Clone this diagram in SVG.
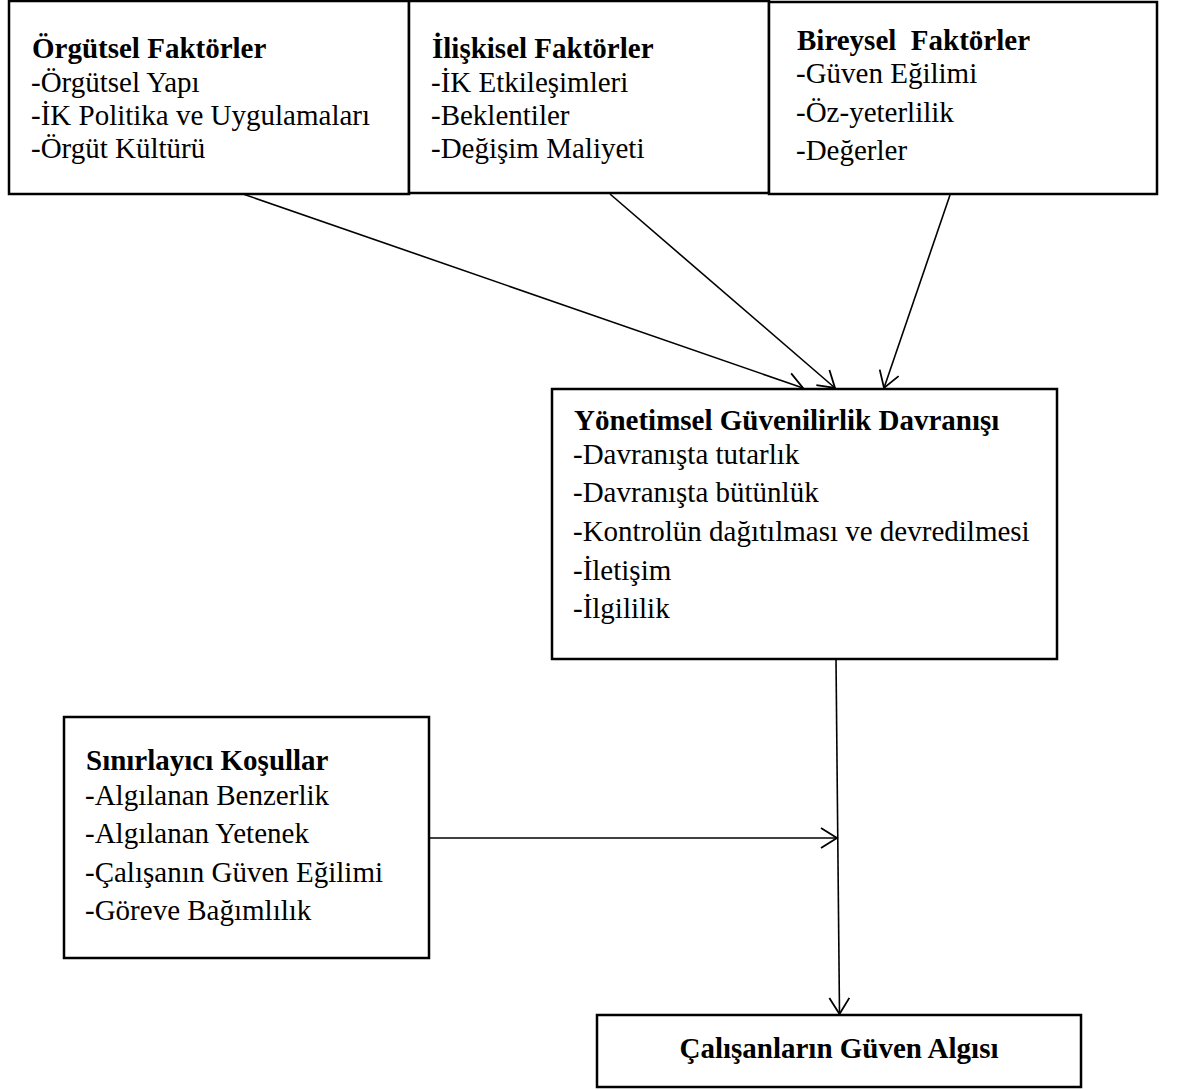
<svg xmlns="http://www.w3.org/2000/svg" width="1177" height="1090" viewBox="0 0 1177 1090">
<style>
.box{fill:#fff;stroke:#000;stroke-width:2.5}
.t{font-family:"Liberation Serif","Times New Roman",serif;font-size:29px;fill:#000}
.b{font-weight:bold}
.c{fill:none;stroke:#000;stroke-width:1.6}
</style>
<defs>
<marker id="ah" markerUnits="userSpaceOnUse" markerWidth="20" markerHeight="24" viewBox="-18 -12 20 24" refX="0" refY="0" orient="auto">
<path d="M-16,-10 L0,0 L-16,10" fill="none" stroke="#000" stroke-width="1.8"/>
</marker>
</defs>
<rect width="1177" height="1090" fill="#fff"/>
<g id="connectors">
<line class="c" x1="243" y1="194" x2="803" y2="388" marker-end="url(#ah)"/>
<line class="c" x1="610" y1="194" x2="835" y2="388" marker-end="url(#ah)"/>
<line class="c" x1="950" y1="195" x2="884" y2="388" marker-end="url(#ah)"/>
<line class="c" x1="836" y1="659" x2="839.5" y2="1014" marker-end="url(#ah)"/>
<line class="c" x1="406" y1="838" x2="837" y2="838" marker-end="url(#ah)"/>
</g>
<g id="orgutsel">
<rect class="box" x="9" y="1" width="400" height="193"/>
<text class="t b" x="32" y="58">Örgütsel Faktörler</text>
<text class="t" x="31" y="92">-Örgütsel Yapı</text>
<text class="t" x="31" y="125">-İK Politika ve Uygulamaları</text>
<text class="t" x="31" y="158">-Örgüt Kültürü</text>
</g>
<g id="iliskisel">
<rect class="box" x="409" y="1" width="360" height="192"/>
<text class="t b" x="432" y="58">İlişkisel Faktörler</text>
<text class="t" x="431" y="92">-İK Etkileşimleri</text>
<text class="t" x="431" y="125">-Beklentiler</text>
<text class="t" x="431" y="158">-Değişim Maliyeti</text>
</g>
<g id="bireysel">
<rect class="box" x="769" y="2" width="388" height="192"/>
<text class="t b" x="797" y="50" xml:space="preserve">Bireysel  Faktörler</text>
<text class="t" x="796" y="83">-Güven Eğilimi</text>
<text class="t" x="796" y="122">-Öz-yeterlilik</text>
<text class="t" x="796" y="160">-Değerler</text>
</g>
<g id="yonetimsel">
<rect class="box" x="552" y="389" width="505" height="270"/>
<text class="t b" x="574" y="430">Yönetimsel Güvenilirlik Davranışı</text>
<text class="t" x="573" y="464">-Davranışta tutarlık</text>
<text class="t" x="573" y="502">-Davranışta bütünlük</text>
<text class="t" x="573" y="541">-Kontrolün dağıtılması ve devredilmesi</text>
<text class="t" x="573" y="580">-İletişim</text>
<text class="t" x="573" y="618">-İlgililik</text>
</g>
<g id="sinirlayici">
<rect class="box" x="64" y="717" width="365" height="241"/>
<text class="t b" x="86" y="770">Sınırlayıcı Koşullar</text>
<text class="t" x="85" y="805">-Algılanan Benzerlik</text>
<text class="t" x="85" y="843">-Algılanan Yetenek</text>
<text class="t" x="85" y="882">-Çalışanın Güven Eğilimi</text>
<text class="t" x="85" y="920">-Göreve Bağımlılık</text>
</g>
<g id="calisanlar">
<rect class="box" x="597" y="1015" width="484" height="72"/>
<text class="t b" x="839" y="1058" text-anchor="middle">Çalışanların Güven Algısı</text>
</g>
</svg>
